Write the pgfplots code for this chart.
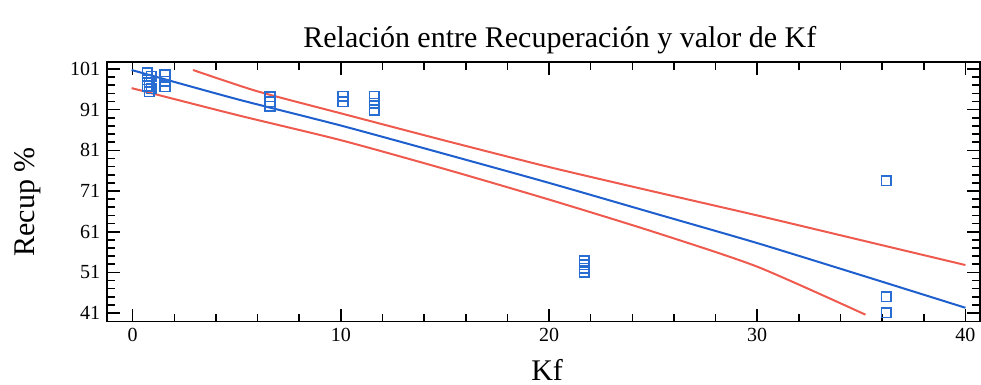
\documentclass[border=0pt]{standalone}
\usepackage{pgfplots}
\pgfplotsset{compat=1.18}
\usepackage{fontspec}
\setmainfont{Liberation Serif}
\definecolor{fitblue}{RGB}{30,95,205}
\definecolor{bandred}{RGB}{238,90,78}
\definecolor{ptblue}{RGB}{40,110,210}
\begin{document}
\begin{tikzpicture}
\begin{axis}[
  scale only axis,
  width=436.5pt, height=130pt,
  anchor=south west, at={(0pt,0pt)},
  xmin=-1.22, xmax=40.7,
  ymin=38.9, ymax=102.8,
  xtick={0,10,20,30,40},
  ytick={41,51,61,71,81,91,101},
  minor x tick num=4,
  minor y tick num=4,
  tick align=inside,
  major tick length=6.5pt,
  minor tick length=4pt,
  every tick/.style={black, line width=0.8pt},
  axis line style={line width=0.9pt},
  tick label style={font=\fontsize{10}{12}\selectfont},
  /pgf/number format/assume math mode=true,
  title={Relación entre Recuperación y valor de Kf},
  title style={font=\fontsize{15}{18}\selectfont, at={(axis description cs:0.5186,1.01)}, anchor=base},
  xlabel={Kf},
  xlabel style={font=\fontsize{15}{18}\selectfont, at={(axis description cs:0.504,-0.225)}, anchor=base},
  ylabel={Recup \%},
  ylabel style={font=\fontsize{15}{18}\selectfont, at={(axis description cs:-0.0908,0.46)}, anchor=center, rotate=0},
  clip=false,
]
\addplot[bandred, line width=1pt, smooth, tension=0.4] coordinates {
(2.9,100.75) (6,95.5) (10,90.1) (15,83.4) (20,76.9) (25,70.9) (30,65.0) (35,58.9) (40,52.8)};
\addplot[bandred, line width=1pt, smooth, tension=0.4] coordinates {
(-0.05,96.3) (5,89.7) (10,83.5) (15,76.4) (20,68.9) (25,61.0) (30,52.4) (35.2,40.6)};
\addplot[fitblue, line width=1pt, smooth, tension=0.4] coordinates {
(-0.05,100.75) (5,93.6) (10,87.1) (15,80.1) (20,73.0) (25,65.6) (30,58.2) (35,50.3) (40,42.3)};
\addplot[only marks, mark=square, mark size=2.4pt, ptblue, mark options={line width=0.8pt}] coordinates {
(0.7,100.0) (0.9,99.2) (0.7,98.4) (0.8,97.6) (0.7,96.8) (0.9,96.2) (0.8,95.4)
(1.55,99.5) (1.55,98.0) (1.55,96.6)
(6.6,94.2) (6.6,93.0) (6.6,91.8)
(10.1,94.3) (10.1,93.0)
(11.6,94.3) (11.6,92.6) (11.6,90.9)
(21.7,53.8) (21.7,52.9) (21.7,52.0) (21.7,51.1)
(36.2,73.5) (36.2,45.0) (36.2,41.1)};
\end{axis}
\pgfresetboundingbox
\path[use as bounding box] (-53.65pt,-31.65pt) rectangle (437pt,160.85pt);
\end{tikzpicture}
\end{document}
